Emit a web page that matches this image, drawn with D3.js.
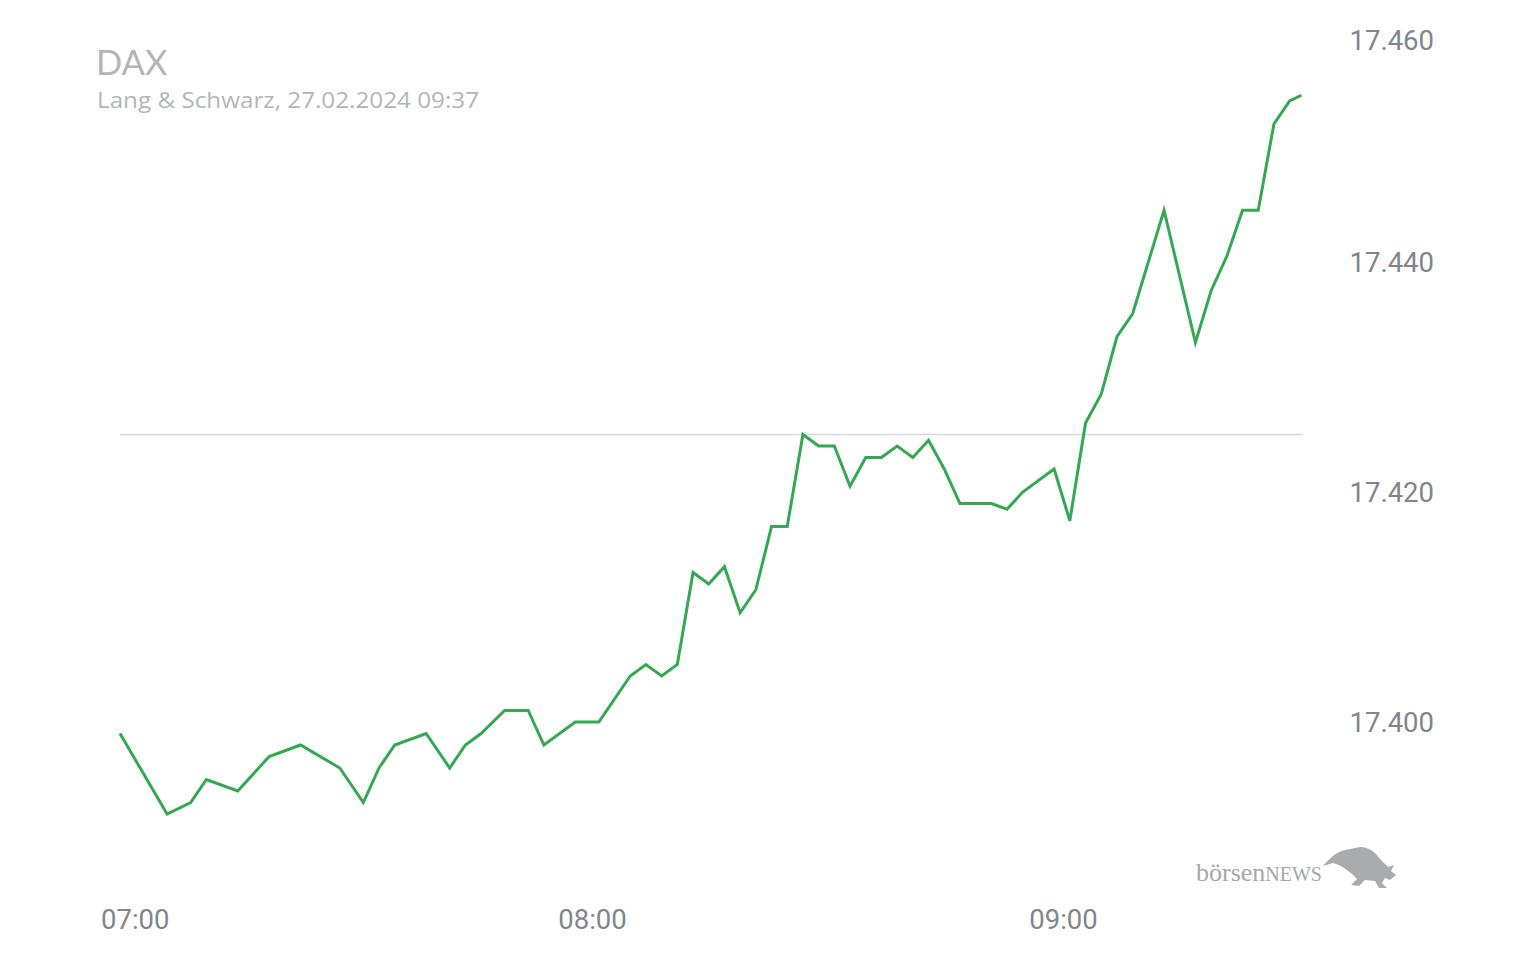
<!DOCTYPE html>
<html>
<head>
<meta charset="utf-8">
<script src="https://cdn.jsdelivr.net/npm/d3@7"></script>
<style>
  html, body { margin: 0; padding: 0; background: #ffffff; }
  svg { display: block; }
</style>
</head>
<body>
<svg id="chart" width="1536" height="960"></svg>
<script>
// ---- data ----
const title = "DAX";
const subtitle = "Lang & Schwarz, 27.02.2024 09:37";
const times = ["07:00","07:06","07:09","07:11","07:15","07:19","07:23","07:28","07:31","07:33",
  "07:35","07:39","07:42","07:44","07:46","07:49","07:52","07:54","07:58","08:01",
  "08:05","08:07","08:09","08:11","08:13","08:15","08:17","08:19","08:21","08:23",
  "08:25","08:27","08:29","08:31","08:33","08:35","08:37","08:39","08:41","08:43",
  "08:45","08:47","08:51","08:53","08:55","08:59","09:01","09:03","09:05","09:07",
  "09:09","09:13","09:17","09:19","09:21","09:23","09:25","09:27","09:29","09:30:30"];
const values = [17399,17392,17393,17395,17394,17397,17398,17396,17393,17396,
  17398,17399,17396,17398,17399,17401,17401,17398,17400,17400,
  17404,17405,17404,17405,17413,17412,17413.5,17409.5,17411.5,17417,
  17417,17425,17424,17424,17420.5,17423,17423,17424,17423,17424.5,
  17422,17419,17419,17418.5,17420,17422,17417.5,17426,17428.5,17433.5,
  17435.5,17444.5,17433,17437.5,17440.5,17444.5,17444.5,17452,17454,17454.5];
const previousClose = 17425;
const yTicks = [17400, 17420, 17440, 17460];
const xTicks = ["07:00", "08:00", "09:00"];

// ---- scales ----
const parse = s => d3.timeParse(s.length > 5 ? "%H:%M:%S" : "%H:%M")(s);
const data = times.map((t, i) => ({ t: parse(t), v: values[i] }));

const x = d3.scaleTime()
  .domain([parse("07:00"), parse("09:30:30")])
  .range([120, 1301.4]);
const y = d3.scaleLinear()
  .domain([17400, 17460])
  .range([722, 32]);

const svg = d3.select("#chart");
const fmt = d3.formatLocale({ decimal: ",", thousands: ".", grouping: [3], currency: ["", "€"] }).format(",.0f");

// title
svg.append("text").attr("x", 96).attr("y", 75)
  .attr("font-family", "Lato, 'Open Sans', sans-serif").attr("font-size", 34.5)
  .attr("fill", "#b3b6b9").text(title);
svg.append("text").attr("x", 97).attr("y", 108)
  .attr("font-family", "'Open Sans', 'Noto Sans', sans-serif").attr("font-size", 21.5)
  .attr("textLength", 382).attr("lengthAdjust", "spacingAndGlyphs")
  .attr("fill", "#b3b6b9").text(subtitle);

// previous close reference line
svg.append("line")
  .attr("x1", x.range()[0]).attr("x2", x.range()[1] + 1)
  .attr("y1", y(previousClose)).attr("y2", y(previousClose))
  .attr("stroke", "#dadada").attr("stroke-width", 1.5);

// y axis labels (right)
svg.append("g").selectAll("text").data(yTicks).join("text")
  .attr("x", 1434)
  .attr("y", d => Math.max(y(d), 40))
  .attr("dy", "0.35em")
  .attr("text-anchor", "end")
  .attr("font-family", "Roboto, sans-serif").attr("font-size", 27.5)
  .attr("fill", "#80868b")
  .text(d => fmt(d));

// x axis labels
const xg = svg.append("g");
xg.selectAll("text").data(xTicks).join("text")
  .attr("y", 929)
  .attr("text-anchor", "middle")
  .attr("font-family", "Roboto, sans-serif").attr("font-size", 27.5)
  .attr("fill", "#80868b")
  .text(d => d)
  .each(function(d) {
    const w = this.getComputedTextLength();
    const cx = Math.max(x(parse(d)) + 1.5, 101 + w / 2);
    d3.select(this).attr("x", cx);
  });

// line
const line = d3.line().x(d => x(d.t)).y(d => y(d.v));
svg.append("path").datum(data)
  .attr("d", line)
  .attr("fill", "none")
  .attr("stroke", "#34a853")
  .attr("stroke-width", 3)
  .attr("stroke-linejoin", "miter");

// logo
const logo = svg.append("g");
const lt = logo.append("text").attr("x", 1196).attr("y", 881)
  .attr("font-family", "'Liberation Serif', 'DejaVu Serif', serif")
  .attr("fill", "#a5a8ab");
lt.append("tspan").attr("font-size", 26).text("börsen");
lt.append("tspan").attr("font-size", 20).text("NEWS");
logo.append("path")
  .attr("d", "M1323,866 C1330,858 1336,852 1345,850 L1360,847 C1369,847 1375,852 1381,860 L1388,867 L1394,865 L1391,871 L1396,875 L1390,880 L1385,878 L1382,883 L1387,888 L1379,888 L1375,881 L1365,880 L1359,886 L1351,885 L1357,879 C1351,872 1341,865 1333,863 Z")
  .attr("fill", "#a9acaf");
</script>
</body>
</html>
